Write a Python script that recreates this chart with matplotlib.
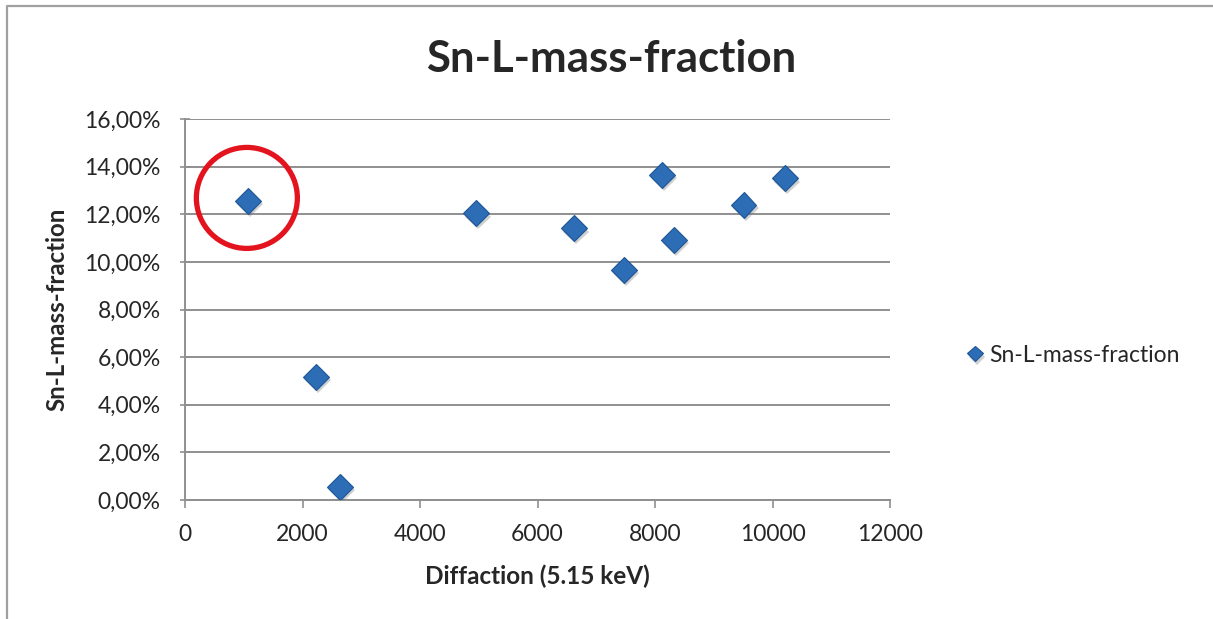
import matplotlib
matplotlib.use("Agg")
import matplotlib.pyplot as plt
import matplotlib.patheffects as pe
from matplotlib.patches import Circle
from matplotlib.lines import Line2D
from matplotlib.ticker import FuncFormatter
from matplotlib.transforms import ScaledTranslation

plt.rcParams['font.family'] = ['Lato', 'DejaVu Sans']

# data
diffraction = [1070, 2230, 2640, 4950, 6620, 7470, 8120, 8320, 9510, 10210]
mass_fraction = [12.56, 5.17, 0.55, 12.05, 11.42, 9.66, 13.65, 10.92, 12.39, 13.52]
series_name = "Sn-L-mass-fraction"
x_ticks = [0, 2000, 4000, 6000, 8000, 10000, 12000]
y_ticks = [0, 2, 4, 6, 8, 10, 12, 14, 16]
highlight = 0  # circled point

blue = "#2d6db5"
edge = "#1d5596"
grid_col = "#8f8f8f"
text_col = "#262626"

fig = plt.figure(figsize=(12.13, 6.19), dpi=100)
ax = fig.add_axes([185/1213, 1-500/619, 705/1213, 381/619])

shadow = [pe.SimplePatchShadow(offset=(1.5, -2.5), shadow_rgbFace="#7a7a7a", alpha=0.35),
          pe.Normal()]
ax.plot(diffraction, mass_fraction, linestyle="none", marker="D", markersize=13,
        markerfacecolor=blue, markeredgecolor=edge, markeredgewidth=0.8,
        label=series_name, path_effects=shadow, zorder=4)

ax.set_xlim(x_ticks[0], x_ticks[-1])
ax.set_ylim(y_ticks[0], y_ticks[-1])
ax.set_xticks(x_ticks)
ax.set_yticks(y_ticks)
ax.yaxis.set_major_formatter(FuncFormatter(lambda v, p: f"{v:.2f}%".replace(".", ",")))

ax.grid(axis="y", color=grid_col, linewidth=1.4)
ax.set_axisbelow(True)
for s in ["top", "right"]:
    ax.spines[s].set_visible(False)
for s in ["left", "bottom"]:
    ax.spines[s].set_color(grid_col)
    ax.spines[s].set_linewidth(1.4)
ax.tick_params(axis="x", direction="out", length=6, width=1.2, color=grid_col,
               labelsize=16.5, labelcolor=text_col, pad=11)
ax.tick_params(axis="y", direction="inout", length=7, width=1.2, color=grid_col,
               labelsize=16.5, labelcolor=text_col, pad=14)

ax.set_xlabel("Diffaction (5.15 keV)", fontsize=17.5, fontweight="bold", color=text_col, labelpad=14)
ax.set_ylabel(series_name, fontsize=17.3, fontweight="bold", color=text_col, labelpad=11)
fig.text(0.504, 1-59/619, series_name, fontsize=31.5, fontweight="bold", color=text_col,
         ha="center", va="center")

# red circle around the first point
trans = fig.dpi_scale_trans + ScaledTranslation(diffraction[highlight], mass_fraction[highlight], ax.transData)
ax.add_patch(Circle((-0.01, 0.03), 0.505, transform=trans, fill=False,
                    edgecolor="#e3141e", linewidth=3.8, zorder=5, clip_on=False))

leg = ax.legend(loc="center left", bbox_to_anchor=(945/1213, 1-355/619),
                bbox_transform=fig.transFigure, frameon=False, fontsize=16.5,
                markerscale=0.62, handlelength=0.8, handletextpad=0.25)
for t in leg.get_texts():
    t.set_color(text_col)

# chart border (top and left)
fig.add_artist(Line2D([7/1213, 7/1213, 1], [0, 1-6/619, 1-6/619], transform=fig.transFigure,
                      color="#a0a0a0", linewidth=1.6))

fig.savefig("out.png", dpi=100)
